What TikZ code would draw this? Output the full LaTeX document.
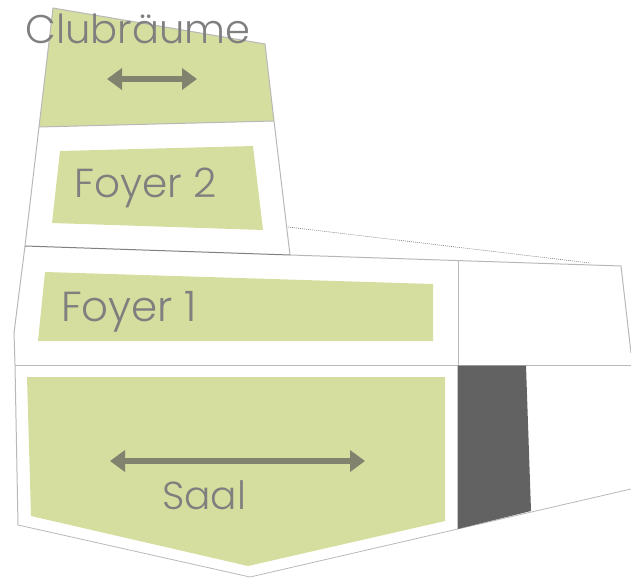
\documentclass[tikz,border=0pt]{standalone}
\usepackage{fontspec}
\setmainfont{Poppins Light}
\definecolor{roomgreen}{HTML}{D5DE9E}
\definecolor{wallgrey}{HTML}{B8B8B8}
\definecolor{labelgrey}{HTML}{7F7F7F}
\definecolor{arrowgrey}{HTML}{81836F}
\definecolor{darkroom}{HTML}{626262}
\usetikzlibrary{arrows.meta}
\tikzset{
  room/.style={fill=roomgreen,draw=none},
  wall/.style={draw=wallgrey,line width=1pt},
  lbl/.style={text=labelgrey,inner sep=0pt,anchor=base west},
  dbl/.style={draw=arrowgrey,line width=6pt,{Triangle[width=21pt,length=15pt]}-{Triangle[width=21pt,length=15pt]}}
}
\begin{document}
\begin{tikzpicture}[x=1pt,y=-1pt]
\useasboundingbox (0,0) rectangle (631,578);
% green rooms
\fill[room] (53,8) -- (265,44) -- (274,121) -- (39,127) -- cycle;
\fill[room] (60,151) -- (253,146) -- (263,230) -- (52,223) -- cycle;
\fill[room] (45,272) -- (433,284) -- (433,341) -- (38,341) -- cycle;
\fill[room] (27,377) -- (445,377) -- (445,521) -- (248,566) -- (31,516) -- cycle;
% walls
\draw[wall] (53,8) -- (265,44) -- (274,121) -- (290,255);
\draw[wall] (53,8) -- (39,127) -- (25,246) -- (14,333) -- (15,365) -- (18,525);
\draw[wall,line width=0.8pt] (18,525) -- (250,577) -- (631,489);
\draw[wall] (39,127) -- (274,121);
\draw[wall,draw=gray] (25,246) -- (290,255);
\draw[wall] (290,255) -- (621,266) -- (631,353);
\draw[wall] (15,365) -- (631,365);
\draw[wall] (458,261) -- (458,365);
\draw[draw=gray,line width=0.6pt,dash pattern=on 1pt off 1pt] (288,227) -- (590,263);
\fill[darkroom] (457.5,365.5) -- (526,365.5) -- (531,511) -- (457.5,529) -- cycle;
% arrows
\coordinate (a1) at (107,79); \coordinate (a2) at (197,79);
\coordinate (b1) at (110,461); \coordinate (b2) at (365,461);
\draw[dbl] (a1) -- (a2);
\draw[dbl] (b1) -- (b2);
% labels
\node[lbl,font=\fontsize{40}{40}\selectfont] (club) at (25,44) {Clubräume};
\node[lbl,font=\fontsize{40.5}{41}\selectfont] (f2) at (74.5,197) {Foyer 2};
\node[lbl,font=\fontsize{42}{42}\selectfont] (f1) at (61,321) {Foyer 1};
\node[lbl,font=\fontsize{39}{39}\selectfont] (saal) at (162,509) {Saal};
\end{tikzpicture}
\end{document}
